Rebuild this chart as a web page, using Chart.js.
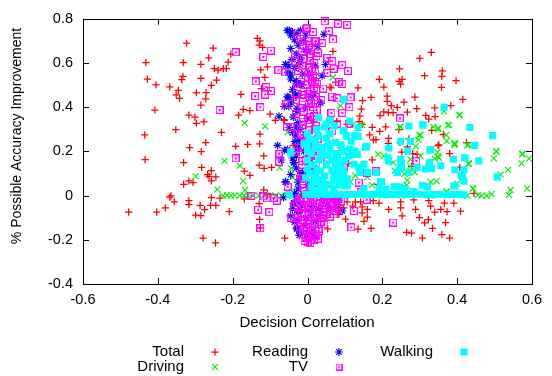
<!DOCTYPE html>
<html><head><meta charset="utf-8">
<script src="https://cdn.jsdelivr.net/npm/chart.js@4/dist/chart.umd.min.js"></script>
<style>html,body{margin:0;padding:0;background:#fff}#wrap{width:552px;height:376px;position:relative}</style>
</head><body><div id="wrap"><canvas id="c" width="552" height="376"></canvas></div>
<script>
const seriesNames = ["Total", "Reading", "Walking", "Driving", "TV"];
const xTickValues = [-0.6, -0.4, -0.2, 0, 0.2, 0.4, 0.6];
const yTickValues = [-0.4, -0.2, 0, 0.2, 0.4, 0.6, 0.8];
const xTitle = "Decision Correlation";
const yTitle = "% Possible Accuracy Improvement";

const totalPts = [[-0.323,0.689],[-0.252,0.667],[-0.134,0.711],[-0.127,0.700],[-0.129,0.681],[-0.120,0.670],[-0.432,0.601],[-0.332,0.601],[-0.264,0.623],[-0.205,0.640],[-0.285,0.593],[-0.212,0.604],[-0.249,0.574],[-0.239,0.567],[-0.225,0.574],[-0.217,0.574],[-0.125,0.568],[-0.107,0.582],[-0.428,0.527],[-0.333,0.539],[-0.336,0.524],[-0.285,0.530],[-0.243,0.522],[-0.114,0.535],[-0.405,0.501],[-0.368,0.492],[-0.345,0.476],[-0.257,0.498],[-0.351,0.456],[-0.342,0.440],[-0.297,0.465],[-0.271,0.466],[-0.272,0.437],[-0.178,0.458],[-0.123,0.484],[-0.285,0.409],[-0.408,0.387],[-0.172,0.390],[-0.154,0.384],[-0.317,0.364],[-0.301,0.355],[-0.184,0.364],[-0.100,0.368],[-0.297,0.327],[-0.277,0.333],[-0.352,0.298],[-0.230,0.286],[-0.435,0.274],[-0.127,0.278],[-0.086,0.340],[-0.062,0.340],[-0.315,0.217],[-0.272,0.240],[-0.284,0.199],[-0.192,0.223],[-0.160,0.231],[-0.128,0.234],
[-0.434,0.163],[-0.117,0.179],[-0.331,0.149],[-0.283,0.127],[-0.129,0.138],[-0.116,0.123],[-0.096,0.127],[-0.169,0.110],[-0.257,0.113],[-0.267,0.095],[-0.263,0.087],[-0.245,0.084],[-0.154,0.091],[-0.317,0.066],[-0.306,0.059],[-0.257,0.066],[-0.331,0.051],[-0.365,-0.001],[-0.368,-0.007],[-0.356,-0.028],[-0.317,-0.023],[-0.317,-0.041],[-0.257,-0.009],[-0.234,-0.012],[-0.169,-0.015],[-0.117,0.026],[-0.107,0.010],[-0.129,-0.037],[-0.287,-0.044],[-0.259,-0.044],[-0.245,-0.044],[-0.380,-0.056],[-0.275,-0.064],[-0.478,-0.075],[-0.403,-0.075],[-0.209,-0.073],[-0.299,-0.088],[-0.285,-0.091],[-0.128,-0.108],[-0.126,-0.146],[-0.279,-0.192],[-0.246,-0.214],[-0.061,-0.193],
[0.068,0.652],[0.331,0.648],[0.300,0.620],[0.246,0.573],[0.360,0.564],[0.313,0.542],[0.359,0.539],[0.397,0.520],[0.192,0.526],[0.245,0.517],[0.253,0.526],[0.249,0.504],[0.135,0.487],[0.204,0.491],[0.358,0.489],[0.063,0.487],[0.170,0.444],[0.213,0.450],[0.287,0.445],[0.147,0.429],[0.213,0.426],[0.258,0.423],[0.415,0.435],[0.224,0.407],[0.240,0.399],[0.292,0.393],[0.340,0.397],[0.383,0.407],[0.144,0.391],[0.204,0.378],[0.216,0.375],[0.229,0.375],[0.267,0.377],[0.194,0.362],[0.140,0.359],[0.316,0.363],[0.341,0.357],[0.324,0.346],[0.138,0.334],[0.173,0.308],[0.209,0.311],[0.193,0.290],[0.244,0.298],[0.332,0.295],[0.166,0.274],[0.217,0.259],[0.176,0.252],[0.183,0.253],[0.271,0.256],[0.363,0.276],[0.216,0.236],[0.247,0.240],[0.351,0.229],[0.425,0.240],[0.252,0.196],[0.281,0.190],[0.380,0.190],[0.146,0.322],[0.106,0.322],[0.078,0.334],
[0.267,0.220],[0.349,0.226],[0.293,0.186],[0.173,0.161],[0.110,0.146],[0.249,0.157],[0.325,0.142],[0.278,0.132],[0.407,0.127],[0.188,0.051],[0.445,0.010],[0.267,0.018],[0.106,-0.029],[0.128,-0.029],[0.176,-0.023],[0.191,-0.034],[0.142,-0.029],[0.249,-0.029],[0.284,-0.019],[0.324,-0.023],[0.366,-0.034],[0.391,-0.034],[0.097,-0.056],[0.121,-0.048],[0.146,-0.051],[0.160,-0.063],[0.217,-0.063],[0.249,-0.056],[0.289,-0.063],[0.329,-0.048],[0.340,-0.075],[0.356,-0.063],[0.373,-0.073],[0.409,-0.070],[0.084,-0.053],[0.146,-0.078],[0.160,-0.097],[0.253,-0.092],[0.102,-0.107],[0.151,-0.117],[0.299,-0.100],[0.323,-0.109],[0.313,-0.124],[0.369,-0.122],[0.050,-0.097],[0.054,-0.151],[0.135,-0.152],[0.170,-0.148],[0.334,-0.148],[0.265,-0.166],[0.278,-0.170],[0.359,-0.177],[0.307,-0.192],[0.380,-0.192],
[-0.021,0.691],[-0.030,0.586],[0.061,0.571],[0.075,0.513],[-0.040,0.469],[0.060,0.491],[-0.037,0.437],[0.017,0.520],[0.013,0.557],[-0.063,0.343],[-0.038,0.227],[0.013,0.171],[0.017,0.333],[0.070,-0.026],[0.084,-0.085]];

const drivingPts = [[-0.226,0.000],[-0.215,0.002],[-0.205,0.000],[-0.195,0.001],[-0.181,0.000],[-0.170,0.002],[-0.160,0.000],[-0.145,0.001],[-0.130,0.000],[-0.115,0.002],[-0.100,0.000],[-0.085,0.001],[-0.070,0.000],[-0.055,0.002],[-0.040,0.000],[-0.025,0.001],
[-0.222,0.157],[-0.181,0.135],[-0.299,0.087],[-0.172,0.066],[-0.241,0.028],[-0.167,0.025],[-0.075,0.127],[-0.044,0.123],[-0.040,0.084],[-0.027,0.050],[-0.032,0.018],[-0.055,0.018],[-0.168,0.328],[-0.113,0.313],[-0.053,0.286],[-0.045,0.198],
[0.088,0.406],[0.407,0.366],[0.376,0.318],[0.336,0.311],[0.349,0.300],[0.249,0.311],[0.299,0.274],[0.371,0.274],[0.296,0.252],[0.393,0.230],[0.430,0.230],[0.289,0.223],[0.347,0.196],[0.189,0.186],[0.204,0.179],[0.349,0.176],[0.340,0.167],[0.275,0.164],[0.302,0.179],[0.431,0.146],[0.229,0.149],[0.275,0.132],[0.287,0.105],[0.233,0.113],[0.259,0.098],[0.079,0.193],[0.088,0.149],[0.128,0.091],[0.173,0.047],[0.267,0.069],[0.265,0.047],[0.280,0.018],[0.329,0.062],[0.345,0.065],[0.400,0.054],[0.372,0.018],[0.443,0.032],[0.479,-0.001],[0.427,0.000],[0.329,0.000],[0.137,0.135],[0.160,0.084],[0.115,0.062],
[0.504,0.201],[0.498,0.168],[0.574,0.186],[0.572,0.145],[0.592,0.167],[0.536,0.116],[0.516,0.095],[0.507,0.084],[0.587,0.032],[0.543,0.025],[0.538,0.003],[0.492,0.007],[0.442,0.032],[0.431,0.142],[0.351,0.171],[0.393,0.237],[0.371,0.018],[0.400,0.003],[0.336,0.003],
[0.068,0.535],[0.365,0.381],[0.406,0.363],[0.378,0.320],[0.146,0.320],[0.247,0.312],[0.120,0.320],[0.302,0.274],[0.349,0.305],[0.372,0.246],[0.394,0.232],[0.427,0.227],[0.505,0.199],[0.574,0.190],[0.086,0.208],
[0.030,0.001],[0.060,0.000],[0.100,0.002],[0.150,0.000],[0.200,0.001],[0.250,0.000],[0.455,0.002],[0.465,0.000]];

const readingPts = [[-0.054,0.747],[-0.045,0.725],[-0.028,0.733],[-0.005,0.725],[0.044,0.730],[-0.019,0.747],[0.028,0.674],[-0.059,0.593],[-0.050,0.586],[-0.019,0.623],[-0.005,0.659],[0.021,0.586],[0.048,0.593],[-0.052,0.557],[-0.014,0.549],[0.039,0.542],[-0.019,0.505],[-0.054,0.447],[-0.023,0.454],[0.017,0.462],[-0.050,0.403],[0.035,0.418],
[-0.049,0.747],[-0.058,0.593],[-0.045,0.527],[-0.051,0.444],[-0.076,0.359],[-0.062,0.403],[-0.080,0.227],[-0.049,0.308],[-0.062,0.205],
[-0.053,0.208],[-0.070,0.161],[-0.036,0.149],[-0.058,0.062],[-0.064,-0.009],[-0.036,-0.034],[-0.027,-0.114],[-0.029,-0.146],
[-0.032,0.274],[-0.023,0.223],[-0.037,0.149],[-0.059,0.062],[-0.014,0.105],[-0.005,0.274],[0.035,0.025],
[-0.037,-0.034],[-0.019,-0.063],[-0.028,-0.151],[0.008,-0.078],[0.039,-0.019],[0.079,-0.041],[0.093,-0.070],[0.106,0.003],[0.021,-0.188],[-0.001,-0.195],[-0.010,-0.136],[-0.045,-0.092],
[-0.010,0.700],[0.000,0.650],[-0.020,0.600],[0.005,0.550],[-0.015,0.500],[0.010,0.450],[-0.005,0.400],[0.000,0.350],[-0.020,0.300],[0.010,0.250],[-0.010,0.200],[0.005,0.150],[-0.015,0.100],[0.000,0.050],[-0.010,0.000],[0.010,-0.050],[-0.005,-0.100],[0.020,-0.120],[0.030,-0.060],[0.045,-0.020],[0.060,0.000],
[-0.025,0.680],[-0.030,0.520],[-0.028,0.380],[-0.026,0.330],[-0.022,0.250],[-0.030,0.180],[-0.020,0.080],[-0.025,0.030],[-0.015,-0.040],[-0.020,-0.170],[0.015,-0.160],[0.055,-0.050],[0.070,-0.010],
[-0.040,0.740],[-0.035,0.705],[-0.045,0.665],[-0.030,0.640],[-0.042,0.615],[-0.034,0.575],[-0.045,0.545],[-0.030,0.505],[-0.040,0.480],[-0.032,0.455],[-0.044,0.420],[-0.028,0.395],[-0.038,0.355],[-0.030,0.310],[-0.040,0.285],[-0.034,0.245],[-0.028,0.210],[-0.040,0.170],[-0.030,0.125],[-0.045,0.095],[-0.025,0.060],[-0.035,0.010],[-0.030,-0.020],[-0.040,-0.060],[-0.025,-0.075],[-0.035,-0.120],[-0.022,-0.180],[0.000,-0.170],[0.030,-0.090],[0.060,-0.065],[0.085,-0.020]];

const tvPts = [[-0.192,0.648],[-0.098,0.656],[-0.118,0.627],[-0.078,0.567],[-0.059,0.557],[-0.138,0.516],[-0.110,0.491],[-0.098,0.473],[-0.140,0.450],[-0.113,0.457],[-0.126,0.399],[-0.057,0.413],[-0.235,0.387],[-0.027,0.725],[-0.034,0.637],[-0.033,0.608],[-0.025,0.564],[-0.027,0.491],[-0.031,0.432],[-0.055,0.308],[-0.036,0.311],[-0.076,0.190],[-0.031,0.198],[-0.192,0.168],[-0.005,0.755],[-0.027,0.278],[-0.031,0.369],
[-0.076,0.189],[-0.076,0.153],[-0.020,0.073],[-0.053,0.040],[-0.150,-0.001],[-0.118,-0.004],[-0.109,-0.012],[-0.089,-0.012],[-0.082,-0.023],[-0.132,-0.064],[-0.102,-0.075],[-0.126,-0.148],[-0.045,-0.100],[-0.036,-0.048],[-0.027,-0.100],[-0.005,-0.144],[-0.005,-0.188],
[-0.001,0.759],[0.046,0.788],[0.082,0.777],[0.106,0.772],[0.057,0.744],[0.068,0.706],[0.021,0.696],[0.039,0.689],[0.028,0.645],[0.053,0.623],[0.066,0.608],[0.093,0.590],[0.108,0.564],[0.070,0.574],[0.053,0.554],[0.021,0.513],[0.042,0.484],[0.084,0.513],[0.093,0.505],[0.066,0.447],[0.079,0.440],[0.115,0.444],[0.037,0.432],[0.112,0.399],[0.064,0.374],[0.093,0.374],[0.247,0.349],[0.079,0.325],[0.110,0.325],[0.066,0.290],
[0.053,0.171],[0.075,0.171],[0.097,0.127],[0.160,0.102],[0.182,0.110],[0.291,0.157],[0.137,0.059],[0.142,0.015],[0.158,-0.019],[0.124,-0.070],[0.229,-0.122],[0.117,-0.144],[0.023,-0.185],[0.070,-0.085],[0.053,-0.034],
[0.000,0.700],[0.010,0.660],[-0.010,0.620],[0.005,0.580],[0.015,0.540],[-0.005,0.500],[0.000,0.460],[0.010,0.420],[-0.010,0.380],[0.000,0.340],[0.020,0.300],[-0.005,0.260],[0.005,0.220],[0.010,0.180],[-0.015,0.140],[0.000,0.100],[0.020,0.060],[-0.010,0.020],[0.000,-0.010],[0.010,-0.030],[-0.010,-0.050],[0.020,-0.070],[0.000,-0.090],[0.030,-0.040],[0.040,-0.060],[0.050,-0.020],[-0.020,-0.020],[-0.015,-0.080],[0.005,-0.110],[0.000,-0.130],[0.010,-0.160],[-0.005,-0.190],[0.000,-0.210],[0.025,-0.100],[0.035,-0.120],[-0.025,-0.120],[0.060,-0.050],[0.070,-0.010],[0.080,-0.030],
[0.015,0.740],[-0.012,0.680],[0.008,0.640],[0.018,0.600],[-0.008,0.560],[0.012,0.520],[0.018,0.480],[-0.012,0.440],[0.015,0.400],[0.018,0.360],[-0.012,0.320],[0.012,0.280],[-0.010,0.240],[0.015,0.200],[-0.005,0.160],[0.012,0.120],[-0.012,0.080],[0.008,0.040],[0.025,-0.020],[0.015,-0.050],[0.045,-0.090],[0.030,-0.150],[0.018,-0.200],[-0.010,-0.160],
[-0.018,0.710],[0.022,0.700],[0.003,0.680],[-0.016,0.650],[0.024,0.630],[0.006,0.610],[-0.013,0.585],[0.021,0.565],[0.002,0.535],[-0.017,0.515],[0.026,0.505],[0.007,0.475],[-0.014,0.455],[0.022,0.445],[0.003,0.415],[-0.018,0.395],[0.025,0.385],[0.006,0.355],[-0.013,0.335],[0.023,0.315],[0.004,0.295],[-0.016,0.275],[0.027,0.255],[0.001,0.235],[-0.018,0.215],[0.022,0.195],[0.005,0.165],[-0.014,0.155],[0.024,0.135],[0.006,0.115],[-0.017,0.095],[0.021,0.085],[0.003,0.055],[-0.012,0.035],[0.025,0.025],[0.002,0.008],
[-0.022,-0.012],[0.035,-0.008],[0.055,-0.012],[0.075,-0.018],[0.090,-0.025],[-0.028,-0.035],[0.015,-0.020],[0.045,-0.035],[0.065,-0.045],[0.085,-0.060],[-0.018,-0.058],[0.005,-0.045],[0.030,-0.065],[0.050,-0.075],[0.070,-0.070],[-0.025,-0.085],[0.015,-0.085],[0.040,-0.100],[0.060,-0.095],[-0.012,-0.110],[0.020,-0.125],[0.045,-0.130],[-0.020,-0.140],[0.008,-0.145],[0.030,-0.160],[-0.012,-0.175],[0.012,-0.180],[0.028,-0.195],[-0.008,-0.205],[0.008,-0.215]];

const walkingPts = [[0.097,0.435],[0.365,0.399],[0.059,0.340],[0.113,0.337],[0.050,0.322],[0.072,0.315],[0.030,0.352],[0.135,0.308],[0.271,0.315],[0.308,0.320],[0.434,0.308],[0.495,0.271],[0.447,0.227],[0.275,0.245],[0.249,0.245],[0.095,0.293],[0.104,0.271],[0.126,0.271],[0.117,0.246],[0.158,0.223],[0.217,0.215],[0.268,0.201],[0.327,0.205],[-0.001,0.230],[0.021,0.234],
[0.309,0.318],[0.097,0.293],[0.104,0.267],[0.135,0.267],[0.155,0.220],[0.113,0.211],[0.126,0.201],[0.133,0.186],[0.110,0.179],[0.215,0.171],[0.249,0.164],[0.251,0.146],[0.217,0.157],[0.326,0.149],[0.421,0.171],[0.458,0.157],[0.394,0.117],[0.418,0.117],[0.411,0.091],[0.394,0.044],[0.418,0.065],[0.356,0.135],[0.332,0.123],[0.320,0.040],[0.293,0.127],[0.240,0.105],[0.271,0.105],[0.251,0.127],[0.198,0.062],[0.231,0.040],[0.260,0.032],[0.184,0.105],[0.124,0.142],[0.140,0.105],[0.151,0.142],[0.097,0.105],[0.075,0.127],[0.070,0.069],[0.106,0.044],[0.151,0.032],[0.191,0.032],[0.307,0.047],
[-0.045,0.193],[-0.049,0.003],[-0.045,0.198],[-0.009,0.234],
[0.155,0.220],[0.329,0.208],[0.390,0.164],[0.420,0.171],[0.316,0.120],[0.507,0.084],[0.414,0.084],[0.247,0.127],[0.195,0.062],[0.210,0.028],[0.320,0.040],[0.391,0.043],[0.246,0.040],[0.284,0.018],[0.160,0.105],[0.137,0.127],[0.120,0.186],[0.084,0.105],[0.106,0.076],
[-0.005,0.006],[0.012,0.004],[0.030,0.006],[0.048,0.004],[0.066,0.005],[0.084,0.006],[0.102,0.004],[0.120,0.005],[0.138,0.006],[0.156,0.004],[0.174,0.005],[0.192,0.006],[0.210,0.004],[0.228,0.005],[0.246,0.006],[0.264,0.004],[0.282,0.005],[0.300,0.006],[0.318,0.004],[0.336,0.005],[0.354,0.006],[0.372,0.004],[0.390,0.005],[0.408,0.006],[0.418,0.004],
[0.000,0.280],[0.020,0.250],[0.040,0.220],[0.010,0.190],[0.030,0.160],[0.050,0.140],[0.000,0.120],[0.020,0.090],[0.040,0.070],[0.060,0.050],[0.010,0.040],[0.030,0.020],[0.070,0.100],[0.080,0.170],[0.060,0.210],[0.090,0.080],[0.050,0.260],[0.070,0.030],[0.015,0.060],[0.035,0.110],[0.055,0.180],[0.075,0.130],[0.085,0.050],[0.025,0.300],[0.045,0.310],[0.000,0.200],[0.000,0.160],[-0.005,0.080],[0.012,0.140],[0.060,0.280],[0.061,0.340],[0.090,0.230],[0.045,0.030],[0.025,0.120],[0.065,0.160],[0.040,0.190],
[0.005,0.255],[0.030,0.270],[0.075,0.240],[0.095,0.200],[0.085,0.145],[0.095,0.120],[0.065,0.115],[0.045,0.090],[0.025,0.070],[0.005,0.100],[0.050,0.050],[0.080,0.075],[0.100,0.045],[0.035,0.045],[0.015,0.025],[0.055,0.235],[0.020,0.215],[0.035,0.180],[0.075,0.190],[0.100,0.160]];

const toXY = a => a.map(p => ({x: p[0], y: p[1]}));
const FONT = "'Liberation Sans', Arial, sans-serif";
const L = {left: 83, right: 532, top: 12.5, bottom: 284};

// open square with a centre dot (gnuplot point type 4 look)
function boxImage(size, color) {
  const c = document.createElement('canvas');
  c.width = size; c.height = size;
  const g = c.getContext('2d');
  g.strokeStyle = color; g.lineWidth = 1.2;
  g.strokeRect(0.6, 0.6, size - 1.2, size - 1.2);
  g.fillStyle = color;
  const m = size / 2;
  g.fillRect(m - 1, m - 1, 2, 2);
  return c;
}
const tvBox = boxImage(8, '#ff00ff');
const tvBoxSmall = boxImage(7, '#ff00ff');

const styles = {
  Total:   {pointStyle: 'cross',    radius: 3.6, color: '#ff0000', fill: false, bw: 1.25},
  Driving: {pointStyle: 'crossRot', radius: 4.3, color: '#00ee00', fill: false, bw: 1.1},
  Reading: {pointStyle: 'star',     radius: 4.0, color: '#0000ff', fill: false, bw: 1.1},
  TV:      {pointStyle: tvBox,      radius: 4.0, color: '#ff00ff', fill: false, bw: 1},
  Walking: {pointStyle: 'rect',     radius: 5.0, color: '#00ffff', fill: true,  bw: 0}
};
function ds(name, pts, order) {
  const s = styles[name];
  return {label: name, data: toXY(pts), order: order, pointStyle: s.pointStyle,
    pointRadius: s.radius, pointHoverRadius: s.radius, pointBorderWidth: s.bw,
    borderColor: s.color, backgroundColor: s.fill ? s.color : 'rgba(0,0,0,0)',
    showLine: false, clip: 6};
}

const framePlugin = {
  id: 'frame',
  beforeDatasetsDraw(chart) {
    const {ctx, chartArea: a, scales: {x, y}} = chart;
    ctx.save();
    ctx.strokeStyle = '#000'; ctx.lineWidth = 1;
    ctx.strokeRect(Math.round(a.left) + 0.5, Math.round(a.top) + 0.5, Math.round(a.right - a.left), Math.round(a.bottom - a.top));
    ctx.beginPath();
    xTickValues.forEach(v => {
      const px = Math.round(x.getPixelForValue(v)) + 0.5;
      ctx.moveTo(px, a.bottom); ctx.lineTo(px, a.bottom - 6);
      ctx.moveTo(px, a.top); ctx.lineTo(px, a.top + 6);
    });
    yTickValues.forEach(v => {
      const py = Math.round(y.getPixelForValue(v)) + 0.5;
      ctx.moveTo(a.left, py); ctx.lineTo(a.left + 6, py);
      ctx.moveTo(a.right, py); ctx.lineTo(a.right - 6, py);
    });
    ctx.stroke();
    ctx.restore();
  },
  afterDraw(chart) {
    const {ctx} = chart;
    ctx.save();
    ctx.fillStyle = '#000';
    ctx.textBaseline = 'middle';
    ctx.font = '15px ' + FONT;
    ctx.textAlign = 'center';
    ctx.fillText(xTitle, 307, 323);
    ctx.save();
    ctx.font = '14px ' + FONT;
    ctx.translate(17, 136); ctx.rotate(-Math.PI / 2);
    ctx.fillText(yTitle, 0, 0);
    ctx.restore();
    // legend
    const entries = [
      ['Total', 184, 352], ['Reading', 308, 352], ['Walking', 433, 352],
      ['Driving', 184, 367], ['TV', 308, 367]
    ];
    entries.forEach(([name, tx, ty]) => {
      ctx.font = '15px ' + FONT;
      ctx.textAlign = 'right'; ctx.fillStyle = '#000';
      ctx.fillText(name, tx, ty);
      const s = styles[name];
      ctx.strokeStyle = s.color; ctx.lineWidth = s.bw || 1;
      ctx.fillStyle = s.fill ? s.color : 'rgba(0,0,0,0)';
      const style = name === 'TV' ? tvBoxSmall : s.pointStyle;
      Chart.helpers.drawPoint(ctx, {pointStyle: style, radius: s.radius, borderWidth: s.bw, rotation: 0}, tx + 31, ty);
    });
    ctx.restore();
  }
};

new Chart(document.getElementById('c'), {
  type: 'scatter',
  data: {datasets: [
    ds('Total', totalPts, 4),
    ds('Driving', drivingPts, 3),
    ds('Reading', readingPts, 2),
    ds('TV', tvPts, 1),
    ds('Walking', walkingPts, 0)
  ]},
  options: {
    responsive: false, animation: false, devicePixelRatio: 1,
    layout: {padding: {left: 0, right: 552 - L.right, top: L.top, bottom: 0}},
    plugins: {legend: {display: false}, tooltip: {enabled: false}},
    scales: {
      x: {type: 'linear', min: -0.6, max: 0.6,
        afterFit(s) { s.height = 376 - L.bottom; },
        afterBuildTicks(s) { s.ticks = xTickValues.map(v => ({value: v})); },
        grid: {display: false, drawTicks: false}, border: {display: false},
        ticks: {padding: 7, color: '#000', font: {family: FONT, size: 14.5},
          callback: v => Math.abs(v) < 1e-9 ? '0' : v.toFixed(1), maxRotation: 0, autoSkip: false}},
      y: {type: 'linear', min: -0.4, max: 0.8,
        afterFit(s) { s.width = L.left; },
        afterBuildTicks(s) { s.ticks = yTickValues.map(v => ({value: v})); },
        grid: {display: false, drawTicks: false}, border: {display: false},
        ticks: {padding: 10, color: '#000', font: {family: FONT, size: 14.5},
          callback: v => Math.abs(v) < 1e-9 ? '0' : v.toFixed(1), autoSkip: false}}
    }
  },
  plugins: [framePlugin]
});
</script></body></html>
